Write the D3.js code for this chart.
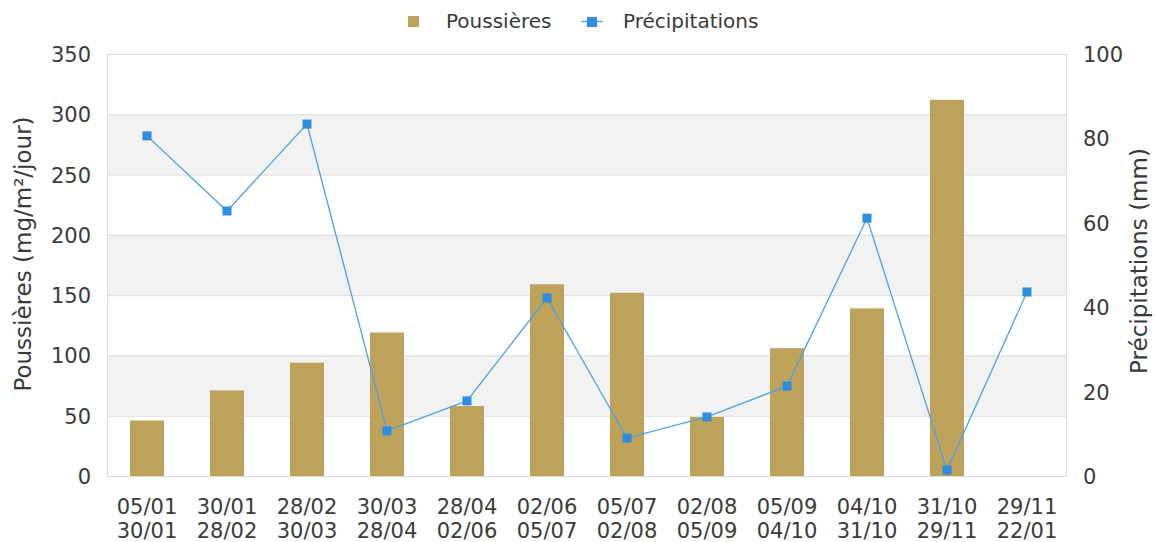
<!DOCTYPE html>
<html><head><meta charset="utf-8">
<script src="https://cdn.jsdelivr.net/npm/d3@7"></script>
<style>body{margin:0;background:#fff}svg{display:block;font-family:"DejaVu Sans",sans-serif}</style>
</head><body><svg id="c" width="1154" height="542"></svg>
<script>
const startDates = ["05/01","30/01","28/02","30/03","28/04","02/06","05/07","02/08","05/09","04/10","31/10","29/11"];
const endDates   = ["30/01","28/02","30/03","28/04","02/06","05/07","02/08","05/09","04/10","31/10","29/11","22/01"];
const dust = [46, 71, 94, 119, 58, 159, 152, 49, 106, 139, 312, null];
const rain = [80.6, 62.8, 83.4, 10.7, 17.8, 42.2, 9.0, 14.0, 21.3, 61.1, 1.4, 43.6];
const leftTicks = [0,50,100,150,200,250,300,350];
const rightTicks = [0,20,40,60,80,100];

const svg = d3.select("#c");
const L=107, R=1067, T=54, B=476;
const idx = d3.range(startDates.length);
const x = d3.scaleBand().domain(idx).range([L,R]);
const yL = d3.scaleLinear().domain([0,350]).range([B,T]);
const yR = d3.scaleLinear().domain([0,100]).range([B,T]);
const textCol="#3a3a3a";
const tickFs = 21;

// bands
for(let i=0;i<leftTicks.length-1;i++){
  if(i%2===1){
    svg.append("rect").attr("x",L).attr("width",R-L)
      .attr("y",yL(leftTicks[i+1])).attr("height",yL(leftTicks[i])-yL(leftTicks[i+1]))
      .attr("fill","#f2f2f2");
  }
}
// grid
svg.append("g").selectAll("line").data(leftTicks).join("line")
  .attr("x1",L).attr("x2",R).attr("y1",d=>yL(d)+0.5).attr("y2",d=>yL(d)+0.5)
  .attr("stroke","#dcdcdc");
svg.append("line").attr("x1",L+0.5).attr("x2",L+0.5).attr("y1",T).attr("y2",B).attr("stroke","#dcdcdc");
svg.append("line").attr("x1",R-0.5).attr("x2",R-0.5).attr("y1",T).attr("y2",B).attr("stroke","#dcdcdc");

// bars
const bw=34;
svg.append("g").selectAll("rect").data(idx.filter(i=>dust[i]!=null)).join("rect")
  .attr("x",i=>x(i)+x.bandwidth()/2-bw/2).attr("width",bw)
  .attr("y",i=>yL(dust[i])).attr("height",i=>B-yL(dust[i]))
  .attr("fill","#bea25a");

// line
const line = d3.line().x(i=>x(i)+x.bandwidth()/2).y(i=>yR(rain[i]));
svg.append("path").datum(idx).attr("d",line).attr("fill","none")
  .attr("stroke","#4aa3e8").attr("stroke-width",1.3);
svg.append("g").selectAll("rect").data(idx).join("rect")
  .attr("x",i=>x(i)+x.bandwidth()/2-4.5).attr("y",i=>yR(rain[i])-4.5)
  .attr("width",9).attr("height",9).attr("fill","#2e8de0");

// left axis labels
svg.append("g").selectAll("text").data(leftTicks).join("text")
  .attr("x",91).attr("y",d=>yL(d)+8).attr("text-anchor","end")
  .attr("font-size",tickFs).attr("fill",textCol).text(d=>d);
svg.append("g").selectAll("text").data(rightTicks).join("text")
  .attr("x",1083).attr("y",d=>yR(d)+8).attr("text-anchor","start")
  .attr("font-size",tickFs).attr("fill",textCol).text(d=>d);
// x labels
const xl = svg.append("g").selectAll("text").data(idx).join("text")
  .attr("text-anchor","middle").attr("font-size",tickFs).attr("fill",textCol);
xl.append("tspan").attr("x",i=>x(i)+x.bandwidth()/2).attr("y",514).text(i=>startDates[i]);
xl.append("tspan").attr("x",i=>x(i)+x.bandwidth()/2).attr("y",538).text(i=>endDates[i]);

// axis titles
svg.append("text").attr("transform","translate(31,254) rotate(-90)").attr("text-anchor","middle")
  .attr("font-size",23).attr("fill",textCol).text("Poussières (mg/m²/jour)");
svg.append("text").attr("transform","translate(1147,261) rotate(-90)").attr("text-anchor","middle")
  .attr("font-size",23).attr("fill",textCol).text("Précipitations (mm)");

// legend
svg.append("rect").attr("x",408).attr("y",16).attr("width",11).attr("height",11).attr("fill","#bea25a");
svg.append("text").attr("x",446).attr("y",28).attr("font-size",20).attr("fill",textCol).text("Poussières");
svg.append("line").attr("x1",581).attr("x2",603).attr("y1",21.5).attr("y2",21.5).attr("stroke","#4aa3e8").attr("stroke-width",1.3);
svg.append("rect").attr("x",587).attr("y",17).attr("width",10).attr("height",10).attr("fill","#2e8de0");
svg.append("text").attr("x",623).attr("y",28).attr("font-size",20).attr("fill",textCol).text("Précipitations");
</script></body></html>
